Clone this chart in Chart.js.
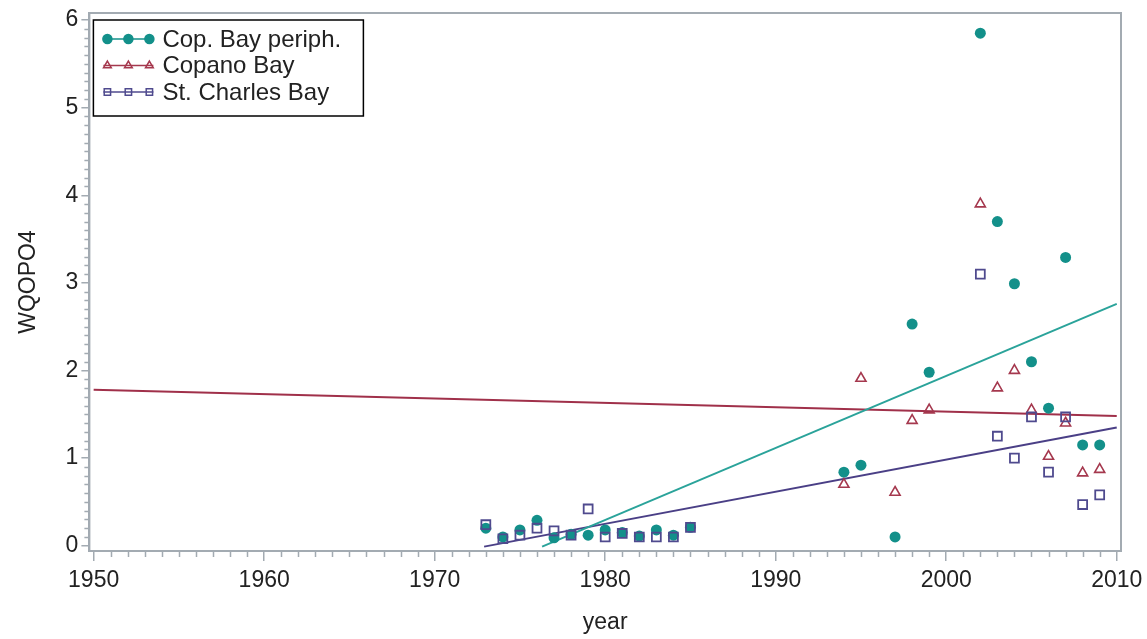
<!DOCTYPE html>
<html>
<head>
<meta charset="utf-8">
<script src="https://cdn.jsdelivr.net/npm/chart.js@4/dist/chart.umd.min.js"></script>
<style>
  html, body { margin: 0; padding: 0; background: #fff; }
  #wrap { width: 1147px; height: 639px; }
</style>
</head>
<body>
<div id="wrap"><canvas id="wqChart" width="1147" height="639"></canvas></div>
<script>
// Series
const periphYears = [1973, 1974, 1975, 1976, 1977, 1978, 1979, 1980, 1981, 1982, 1983, 1984, 1985,
                     1994, 1995, 1997, 1998, 1999, 2002, 2003, 2004, 2005, 2006, 2007, 2008, 2009];
const periphValues = [0.20, 0.10, 0.18, 0.29, 0.09, 0.13, 0.12, 0.18, 0.15, 0.11, 0.18, 0.12, 0.21,
                      0.84, 0.92, 0.10, 2.53, 1.98, 5.85, 3.70, 2.99, 2.10, 1.57, 3.29, 1.15, 1.15];

const copanoYears = [1994, 1995, 1997, 1998, 1999, 2002, 2003, 2004, 2005, 2006, 2007, 2008, 2009];
const copanoValues = [0.70, 1.91, 0.61, 1.43, 1.55, 3.90, 1.80, 2.00, 1.55, 1.02, 1.40, 0.83, 0.87];

const stCharlesYears = [1973, 1974, 1975, 1976, 1977, 1978, 1979, 1980, 1981, 1982, 1983, 1984, 1985,
                        2002, 2003, 2004, 2005, 2006, 2007, 2008, 2009];
const stCharlesValues = [0.24, 0.08, 0.12, 0.20, 0.17, 0.12, 0.42, 0.10, 0.14, 0.10, 0.10, 0.10, 0.21,
                         3.10, 1.25, 1.00, 1.47, 0.84, 1.47, 0.47, 0.58];

// Fitted trend lines (end points)
const periphFitYears = [1976.3, 2010];
const periphFitValues = [-0.01, 2.76];
const copanoFitYears = [1950, 2010];
const copanoFitValues = [1.78, 1.48];
const stCharlesFitYears = [1972.9, 2010];
const stCharlesFitValues = [-0.01, 1.35];

// Axis ticks
const xTicks = [1950, 1960, 1970, 1980, 1990, 2000, 2010];
const yTicks = [0, 1, 2, 3, 4, 5, 6];

const seriesNames = ['Cop. Bay periph.', 'Copano Bay', 'St. Charles Bay'];

const TEAL = '#13908a';
const RED = '#a5384e';
const PURPLE = '#4f4a8e';
const AXIS = '#a3abb2';
const TEXT = '#222';
const FONT = '"Liberation Sans", Arial, sans-serif';

function toPoints(xs, ys) {
    return xs.map((x, i) => ({ x: x, y: ys[i] }));
}

// minor ticks, box frame and the legend
const framePlugin = {
    id: 'frame',
    afterDraw(chart) {
        const ctx = chart.ctx;
        const a = chart.chartArea;
        const xs = chart.scales.x;
        const ys = chart.scales.y;
        ctx.save();
        ctx.strokeStyle = AXIS;
        ctx.lineWidth = 1.5;
        ctx.beginPath();
        for (let yr = 1950; yr <= 2010; yr++) {
            if (yr % 10 === 0) continue;
            const px = Math.round(xs.getPixelForValue(yr)) + 0.5;
            ctx.moveTo(px, a.bottom);
            ctx.lineTo(px, a.bottom + 6);
        }
        for (let k = 0; k <= 60; k++) {
            if (k % 10 === 0) continue;
            const py = Math.round(ys.getPixelForValue(k / 10)) + 0.5;
            ctx.moveTo(a.left, py);
            ctx.lineTo(a.left - 5, py);
        }
        ctx.stroke();
        ctx.lineWidth = 2;
        ctx.strokeRect(a.left, a.top, a.right - a.left, a.bottom - a.top);

        // legend
        const lx = a.left + 4, ly = a.top + 7, lw = 270, lh = 96;
        ctx.fillStyle = '#fff';
        ctx.fillRect(lx, ly, lw, lh);
        ctx.strokeStyle = '#000';
        ctx.lineWidth = 1.5;
        ctx.strokeRect(lx, ly, lw, lh);
        const styles = [
            { color: TEAL, point: 'circle', fill: TEAL },
            { color: RED, point: 'triangle', fill: 'rgba(0,0,0,0)' },
            { color: PURPLE, point: 'rect', fill: 'rgba(0,0,0,0)' }
        ];
        ctx.font = '24px ' + FONT;
        ctx.textBaseline = 'middle';
        seriesNames.forEach((name, i) => {
            const cy = ly + 19 + i * 26.5;
            const st = styles[i];
            ctx.strokeStyle = st.color;
            ctx.lineWidth = 1.5;
            ctx.beginPath();
            ctx.moveTo(lx + 10, cy);
            ctx.lineTo(lx + 60, cy);
            ctx.stroke();
            [lx + 14, lx + 35, lx + 56].forEach(px => {
                ctx.fillStyle = st.fill;
                ctx.strokeStyle = st.color;
                Chart.helpers.drawPoint(ctx, { pointStyle: st.point, radius: 4.5, rotation: 0, borderWidth: 1.5 }, px, cy);
            });
            ctx.fillStyle = TEXT;
            ctx.fillText(name, lx + 69, cy + 1);
        });
        ctx.restore();
    }
};

const ctx = document.getElementById('wqChart').getContext('2d');
window.wqChart = new Chart(ctx, {
    type: 'scatter',
    data: {
        datasets: [
            {
                label: seriesNames[2],
                data: toPoints(stCharlesYears, stCharlesValues),
                pointStyle: 'rect',
                pointRadius: 6.3,
                pointBackgroundColor: 'rgba(0,0,0,0)',
                pointBorderColor: PURPLE,
                pointBorderWidth: 1.8,
                order: 0
            },
            {
                label: seriesNames[1],
                data: toPoints(copanoYears, copanoValues),
                pointStyle: 'triangle',
                pointRadius: 5.8,
                pointBackgroundColor: 'rgba(0,0,0,0)',
                pointBorderColor: RED,
                pointBorderWidth: 1.6,
                order: 1
            },
            {
                label: seriesNames[0],
                data: toPoints(periphYears, periphValues),
                pointStyle: 'circle',
                pointRadius: 5.5,
                pointBackgroundColor: TEAL,
                pointBorderColor: TEAL,
                pointBorderWidth: 0,
                order: 2
            },
            {
                label: 'fit periph',
                type: 'line',
                data: toPoints(periphFitYears, periphFitValues),
                borderColor: '#2aa39a',
                borderWidth: 2,
                pointRadius: 0,
                order: 3
            },
            {
                label: 'fit copano',
                type: 'line',
                data: toPoints(copanoFitYears, copanoFitValues),
                borderColor: '#a0304a',
                borderWidth: 2,
                pointRadius: 0,
                order: 4
            },
            {
                label: 'fit st charles',
                type: 'line',
                data: toPoints(stCharlesFitYears, stCharlesFitValues),
                borderColor: '#4a3f86',
                borderWidth: 2,
                pointRadius: 0,
                order: 5
            }
        ]
    },
    options: {
        responsive: false,
        animation: false,
        layout: { padding: { top: 13, right: 26, left: 15, bottom: 0 } },
        scales: {
            x: {
                type: 'linear',
                min: 1949.75,
                max: 2010.25,
                afterBuildTicks: scale => { scale.ticks = xTicks.map(v => ({ value: v })); },
                afterFit: scale => { scale.paddingLeft = 0; scale.paddingRight = 0; },
                border: { display: true, color: AXIS, width: 2 },
                grid: { display: true, drawOnChartArea: false, color: AXIS, lineWidth: 1.5, tickLength: 10 },
                ticks: {
                    color: TEXT, font: { family: FONT, size: 23 }, padding: 6, maxRotation: 0, autoSkip: false,
                    callback: value => String(value)
                },
                title: { display: true, text: 'year', color: TEXT, font: { family: FONT, size: 23 }, padding: { top: 7.8, bottom: 3 } }
            },
            y: {
                type: 'linear',
                min: -0.06,
                max: 6.08,
                afterBuildTicks: scale => { scale.ticks = yTicks.map(v => ({ value: v })); },
                border: { display: true, color: AXIS, width: 2 },
                grid: { display: true, drawOnChartArea: false, color: AXIS, lineWidth: 1.5, tickLength: 8 },
                ticks: { color: TEXT, font: { family: FONT, size: 23, lineHeight: 0.8 }, padding: 3 },
                title: { display: true, text: 'WQOPO4', color: TEXT, font: { family: FONT, size: 23 }, padding: { top: 0, bottom: 20 } }
            }
        },
        plugins: {
            legend: { display: false },
            tooltip: { enabled: false }
        }
    },
    plugins: [framePlugin]
});
</script>
</body>
</html>
